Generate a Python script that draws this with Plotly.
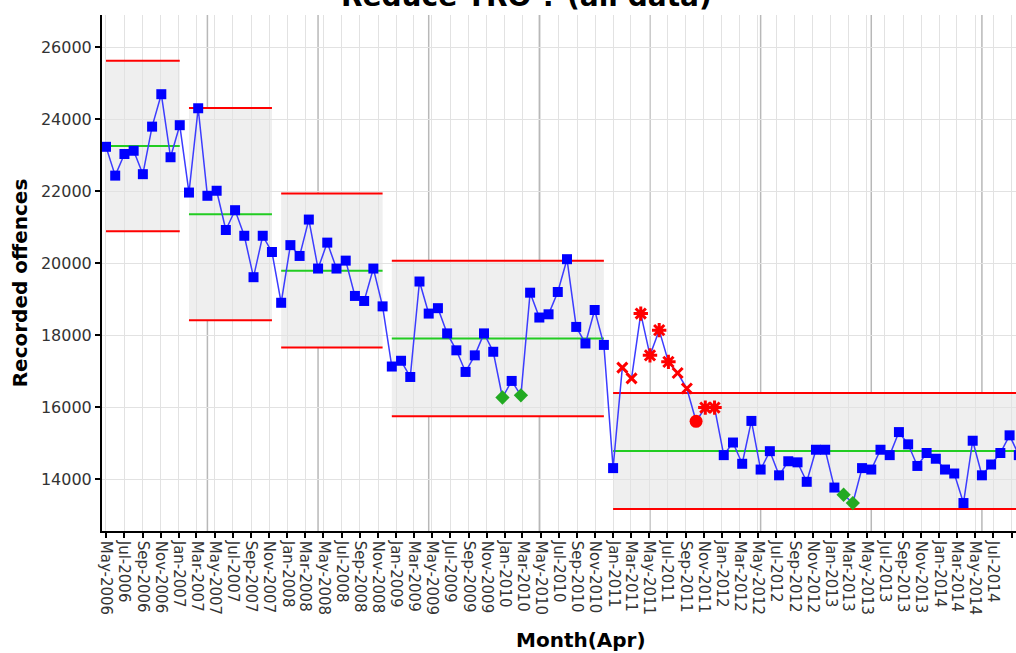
import numpy as np
import pandas as pd
import plotly.graph_objects as go

# ---------------- data ----------------
start_month = "2006-05"
values = [23230, 22430, 23030, 23120, 22470, 23790, 24690, 22940, 23830,
          21960, 24300, 21870, 22010, 20920, 21470, 20760, 19610, 20760, 20310,
          18900, 20500, 20200, 21210, 19850, 20570, 19850, 20070, 19090, 18950, 19850, 18800,
          17130, 17290, 16840, 19490, 18600, 18750, 18050, 17580, 16980, 17440, 18050, 17540,
          16270, 16730, 16330, 19180, 18490, 18580, 19200, 20110, 18230, 17770, 18700, 17730,
          14310, 17100, 16800, 18600, 17440, 18140, 17260, 16950, 16520, 15610, 15990, 15990,
          14670, 15020, 14430, 15620, 14270, 14780, 14110, 14500, 14470, 13930, 14820, 14820,
          13770, 13570, 13340, 14310, 14270, 14820, 14670, 15310, 14970, 14370, 14730, 14570,
          14270, 14160, 13340, 15070, 14110, 14410, 14730, 15220, 14670]

low_idx = [43, 45, 80, 81]            # green diamonds
x_idx = [56, 57, 62, 63]              # red crosses
star_idx = [58, 59, 60, 61, 65, 66]   # red asterisks
circle_idx = [64]                     # red circle

seg_start = [0, 9, 19, 31, 55]
seg_end = [8, 18, 30, 54, 99]
seg_mean = [23250, 21360, 19790, 17910, 14787]
seg_ucl = [25620, 24306, 21935, 20070, 16398]
seg_lcl = [20889, 18417, 17657, 15750, 13176]

y_ticks = [14000, 16000, 18000, 20000, 22000, 24000, 26000]

title_text = "Reduce TRO ? (all data)"
x_title = "Month(Apr)"
y_title = "Recorded offences"

# ---------------- positions ----------------
n = len(values)
x0 = pd.Timestamp(start_month + "-01")
xs = [x0 + pd.Timedelta(days=31 * i) for i in range(n)]
months = pd.period_range(start_month, periods=n, freq="M")
april_idx = [i for i, m in enumerate(months) if m.month == 4]

special = set(low_idx + x_idx + star_idx + circle_idx)
normal_idx = [i for i in range(n) if i not in special]

fig = go.Figure()

shapes = []
for s, e, u, l in zip(seg_start, seg_end, seg_ucl, seg_lcl):
    shapes.append(dict(type="rect", xref="x", yref="y", x0=xs[s], x1=xs[e], y0=l, y1=u,
                       fillcolor="#EFEFEF", line=dict(width=0), layer="below"))
for i in april_idx:
    shapes.append(dict(type="line", xref="x", yref="paper", x0=xs[i], x1=xs[i], y0=0, y1=1,
                       line=dict(color="#B8B8B8", width=1.5), layer="below"))

# control limit lines
for s, e, m, u, l in zip(seg_start, seg_end, seg_mean, seg_ucl, seg_lcl):
    for val, col in ((u, "#FF0000"), (l, "#FF0000"), (m, "#22CC22")):
        fig.add_trace(go.Scatter(x=[xs[s], xs[e]], y=[val, val], mode="lines",
                                 line=dict(color=col, width=2), hoverinfo="skip",
                                 showlegend=False))

# data line
fig.add_trace(go.Scatter(x=xs, y=values, mode="lines",
                         line=dict(color="#3C3CFF", width=1.5), showlegend=False))

def pick(idx):
    return [xs[i] for i in idx], [values[i] for i in idx]

px_, py_ = pick(normal_idx)
fig.add_trace(go.Scatter(x=px_, y=py_, mode="markers",
                         marker=dict(symbol="square", size=10, color="#0000FF",
                                     line=dict(width=0)), showlegend=False))
px_, py_ = pick(low_idx)
fig.add_trace(go.Scatter(x=px_, y=py_, mode="markers",
                         marker=dict(symbol="diamond", size=11, color="#22AA22",
                                     line=dict(width=0)), showlegend=False))
px_, py_ = pick(x_idx)
fig.add_trace(go.Scatter(x=px_, y=py_, mode="markers",
                         marker=dict(symbol="x-thin-open", size=10, color="#FF0000",
                                     line=dict(width=3, color="#FF0000")), showlegend=False))
px_, py_ = pick(star_idx)
fig.add_trace(go.Scatter(x=px_, y=py_, mode="markers",
                         marker=dict(symbol="asterisk-open", size=12, color="#FF0000",
                                     line=dict(width=3, color="#FF0000")), showlegend=False))
px_, py_ = pick(circle_idx)
fig.add_trace(go.Scatter(x=px_, y=py_, mode="markers",
                         marker=dict(symbol="circle", size=13, color="#FF0000",
                                     line=dict(width=0)), showlegend=False))

x_range = [x0 - pd.Timedelta(days=13.4), x0 + pd.Timedelta(days=3059.6)]

fig.update_layout(
    width=1016, height=653,
    margin=dict(l=102, r=0, t=15, b=122),
    paper_bgcolor="white", plot_bgcolor="white",
    font=dict(family="DejaVu Sans", color="#333333"),
    shapes=shapes,
    xaxis=dict(type="date", range=x_range, tick0=x0, dtick="M2", tickformat="%b-%Y",
               tickangle=90, tickfont=dict(size=15, color="#333333", family="DejaVu Sans"),
               showgrid=True, gridcolor="#E2E2E2", gridwidth=1,
               showline=True, linecolor="black", linewidth=1.5,
               ticks="outside", ticklen=5, tickwidth=1.5, tickcolor="black",
               zeroline=False, automargin=False),
    yaxis=dict(range=[12564, 26889], tickvals=y_ticks, tickformat="d",
               tickfont=dict(size=16, color="#333333", family="DejaVu Sans"),
               showgrid=True, gridcolor="#E2E2E2", gridwidth=1,
               showline=True, linecolor="black", linewidth=2,
               ticks="outside", ticklen=5, tickwidth=1.5, tickcolor="black",
               zeroline=False, automargin=False),
    annotations=[
        dict(text="<b>%s</b>" % title_text, xref="paper", yref="paper", x=0.464, y=1,
             xanchor="center", yanchor="bottom", showarrow=False,
             font=dict(size=28, color="black", family="DejaVu Sans")),
        dict(text="<b>%s</b>" % y_title, xref="paper", yref="paper", x=-0.0897, y=0.48,
             xanchor="center", yanchor="middle", textangle=-90, showarrow=False,
             font=dict(size=20, color="black", family="DejaVu Sans")),
        dict(text="<b>%s</b>" % x_title, xref="paper", yref="paper", x=0.524, y=-0.211,
             xanchor="center", yanchor="middle", showarrow=False,
             font=dict(size=20, color="black", family="DejaVu Sans")),
    ],
)

fig.write_html("out.html", config={"displayModeBar": False},
               post_script="document.body.style.margin='0px';")
